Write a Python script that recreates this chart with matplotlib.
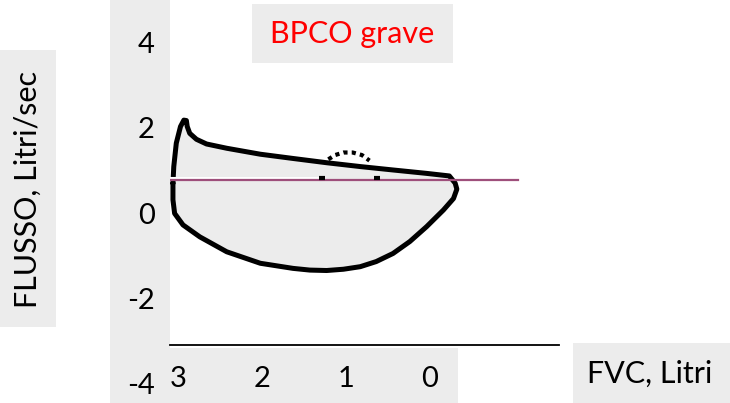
# -*- coding: utf-8 -*-
"""
Curva flusso-volume nella BPCO grave: ansa espiratoria/inspiratoria,
respiro corrente tratteggiato e livello di flusso di riferimento.
"""
import matplotlib
matplotlib.use('Agg')
import matplotlib.pyplot as plt
from matplotlib.patches import Rectangle

plt.rcParams['font.family'] = ['Lato', 'DejaVu Sans']
plt.rcParams['axes.unicode_minus'] = False

# curva espiratoria (volume in litri, flusso in litri/sec)
esp_volume = [3.06, 3.05, 3.02, 2.97, 2.93, 2.90, 2.89, 2.86, 2.78, 2.66,
              2.42, 2.02, 1.63, 1.23, 0.83, 0.44, 0.04, -0.23]
esp_flusso = [0.70, 1.09, 1.64, 2.03, 2.18, 2.17, 2.03, 1.87, 1.73, 1.62,
              1.52, 1.38, 1.28, 1.18, 1.09, 1.01, 0.93, 0.87]

# curva inspiratoria (da destra verso sinistra)
insp_volume = [-0.30, -0.32, -0.28, -0.16, 0.04, 0.24, 0.44, 0.64, 0.83, 1.03,
               1.23, 1.43, 1.63, 2.02, 2.42, 2.74, 2.94, 3.04, 3.06]
insp_flusso = [0.70, 0.56, 0.34, 0.07, -0.32, -0.67, -0.95, -1.14, -1.26, -1.32,
               -1.35, -1.34, -1.30, -1.18, -0.91, -0.56, -0.28, -0.01, 0.31]

# respiro corrente (arco tratteggiato) e suoi estremi
tidal_volume = [1.21, 1.13, 1.03, 0.92, 0.81, 0.72]
tidal_flusso = [1.26, 1.36, 1.42, 1.42, 1.36, 1.23]
tidal_estremi = [1.29, 0.63]
tidal_base = 0.83

# linea orizzontale di riferimento
livello_flusso = 0.775
livello_volume = [3.095, -1.05]
bianco_flusso = 0.81
bianco_volume = [3.095, 1.31]

x_ticks = [3, 2, 1, 0]
y_ticks = [-4, -2, 0, 2, 4]

W, H = 730, 403
GRIGIO = '#ECECEC'

fig = plt.figure(figsize=(W / 100, H / 100), dpi=100)
fig.patch.set_facecolor('white')


def riquadro(x0, y0, x1, y1):
    # rettangolo grigio in pixel (origine in alto a sinistra)
    fig.add_artist(Rectangle((x0 / W, 1 - y1 / H), (x1 - x0) / W, (y1 - y0) / H,
                             transform=fig.transFigure, facecolor=GRIGIO,
                             edgecolor='none', zorder=-1))


riquadro(0, 50, 56, 327)      # etichetta asse y
riquadro(110, 0, 170, 403)    # valori asse y
riquadro(252, 4, 453, 63)     # titolo
riquadro(170, 348, 458, 403)  # valori asse x
riquadro(573, 343, 730, 403)  # etichetta asse x

ax = fig.add_axes([170 / W, 0, (559 - 170) / W, 1])
ax.set_facecolor('none')
ax.set_xlim(3.095, -1.536)
ax.set_ylim(-4.46, 5.0)

for lato in ['left', 'right', 'top']:
    ax.spines[lato].set_visible(False)
ax.spines['bottom'].set_position(('data', -3.10))
ax.spines['bottom'].set_linewidth(1.3)
ax.spines['bottom'].set_color('black')

ax.set_xticks(x_ticks)
ax.set_xticklabels([str(v) for v in x_ticks])
ax.set_yticks(y_ticks)
ax.set_yticklabels([str(v) for v in y_ticks])
ax.tick_params(axis='x', length=0, pad=15, labelsize=21, colors='black')
ax.tick_params(axis='y', length=0, pad=11, labelsize=21, colors='black')

# ansa flusso-volume
loop_v = esp_volume + insp_volume
loop_f = esp_flusso + insp_flusso
ax.fill(loop_v, loop_f, color=GRIGIO, zorder=1)
ax.plot(loop_v + [loop_v[0]], loop_f + [loop_f[0]], color='black', lw=3.6,
        solid_joinstyle='round', solid_capstyle='round', zorder=3)

# respiro corrente
ax.plot(tidal_volume, tidal_flusso, color='black', lw=3, linestyle=(0, (1, 1)),
        dash_capstyle='butt', zorder=3)
ax.plot(tidal_estremi, [tidal_base] * len(tidal_estremi), ls='none', marker='_',
        ms=5, mew=3, color='black', zorder=5)

# linee orizzontali
ax.plot(bianco_volume, [bianco_flusso] * 2, color='white', lw=1.5, zorder=4)
ax.plot(livello_volume, [livello_flusso] * 2, color='#9E4F7B', lw=1.6, zorder=4)

fig.text(352 / W, 1 - 43 / H, 'BPCO grave', ha='center', va='baseline',
         color='red', fontsize=22)
fig.text(650 / W, 1 - 383 / H, 'FVC, Litri', ha='center', va='baseline',
         color='black', fontsize=22)
fig.text(37 / W, 1 - 190 / H, 'FLUSSO, Litri/sec', rotation=90,
         rotation_mode='anchor', ha='center', va='baseline', color='black',
         fontsize=22)

fig.savefig('out.png', dpi=100)
